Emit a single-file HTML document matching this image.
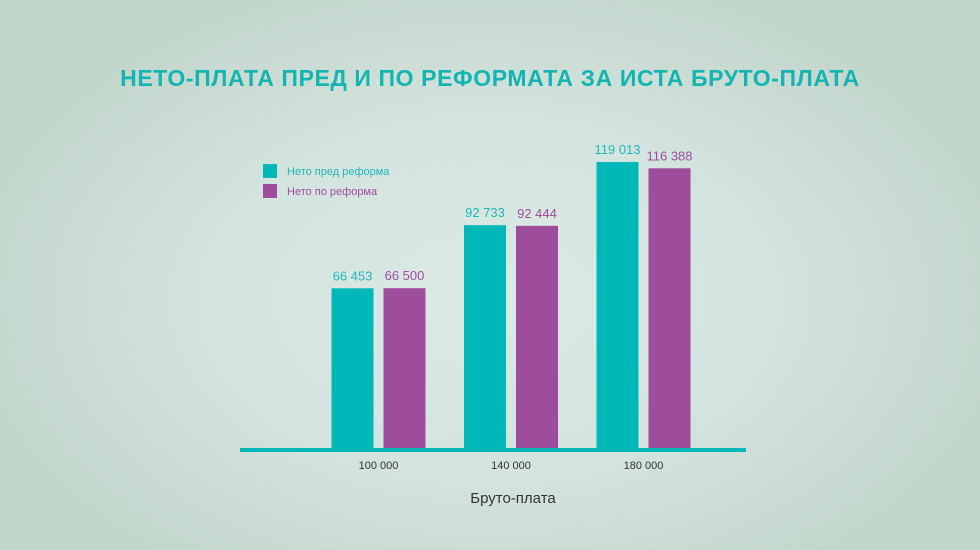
<!DOCTYPE html>
<html><head><meta charset="utf-8">
<style>
html,body{margin:0;padding:0;}
body{width:980px;height:550px;overflow:hidden;font-family:"Liberation Sans",sans-serif;
background:radial-gradient(ellipse 520px 330px at 490px 300px,#dceae6 0%,#d3e3de 55%,#c3d6cc 100%);}
svg{display:block}
</style></head><body>
<svg id="chart" width="980" height="550">
  <text x="490" y="86" text-anchor="middle" font-size="23" letter-spacing="0.6" font-weight="bold" fill="#13b5b1">НЕТО-ПЛАТА ПРЕД И ПО РЕФОРМАТА ЗА ИСТА БРУТО-ПЛАТА</text>
  <g>
    <rect x="263" y="164" width="14" height="14" fill="#00b8b8"/>
    <text x="287" y="175" font-size="11" fill="#1fb8b8">Нето пред реформа</text>
    <rect x="263" y="184" width="14" height="14" fill="#9e4d9c"/>
    <text x="287" y="195" font-size="11" fill="#9e4d9c">Нето по реформа</text>
  </g>
  <g id="bars"></g>
  <rect x="240" y="448" width="506" height="4" fill="#00b8b8"/>
  <text x="513" y="503" text-anchor="middle" font-size="15" fill="#333">Бруто-плата</text>
</svg>
<script>
const categories = ["100 000","140 000","180 000"];
const seriesBefore = [66453, 92733, 119013];
const seriesAfter = [66500, 92444, 116388];
const labelsBefore = ["66 453","92 733","119 013"];
const labelsAfter = ["66 500","92 444","116 388"];

const NS = "http://www.w3.org/2000/svg";
const g = document.getElementById('bars');
const baseY = 448;
function yScale(v){ return baseY - v * (286/119013); }
function xGroup(i){ return 378.5 + i * 132.5; }
const bw = 42;
function mk(tag, attrs){ const e=document.createElementNS(NS,tag); for(const k in attrs) e.setAttribute(k,attrs[k]); g.appendChild(e); return e; }
categories.forEach((c,i)=>{
  const cx = xGroup(i);
  const yb = yScale(seriesBefore[i]);
  const r1 = mk('rect',{x:cx-47,y:yb,width:bw,height:baseY-yb,fill:'#00b8b8'});
  
  
  const ya = yScale(seriesAfter[i]);
  const r2 = mk('rect',{x:cx+5,y:ya,width:bw,height:baseY-ya,fill:'#9e4d9c'});
  
  
  const t1 = mk('text',{x:cx-26,y:yb-8,'text-anchor':'middle','font-size':13,fill:'#1fb8b8'});
  t1.textContent = labelsBefore[i];
  
  
  const t2 = mk('text',{x:cx+26,y:ya-8,'text-anchor':'middle','font-size':13,fill:'#9e4d9c'});
  t2.textContent = labelsAfter[i];
  
  
  const tk = mk('text',{x:cx,y:469,'text-anchor':'middle','font-size':11,fill:'#333'});
  tk.textContent = c;
  
  
});
</script>
</body></html>
